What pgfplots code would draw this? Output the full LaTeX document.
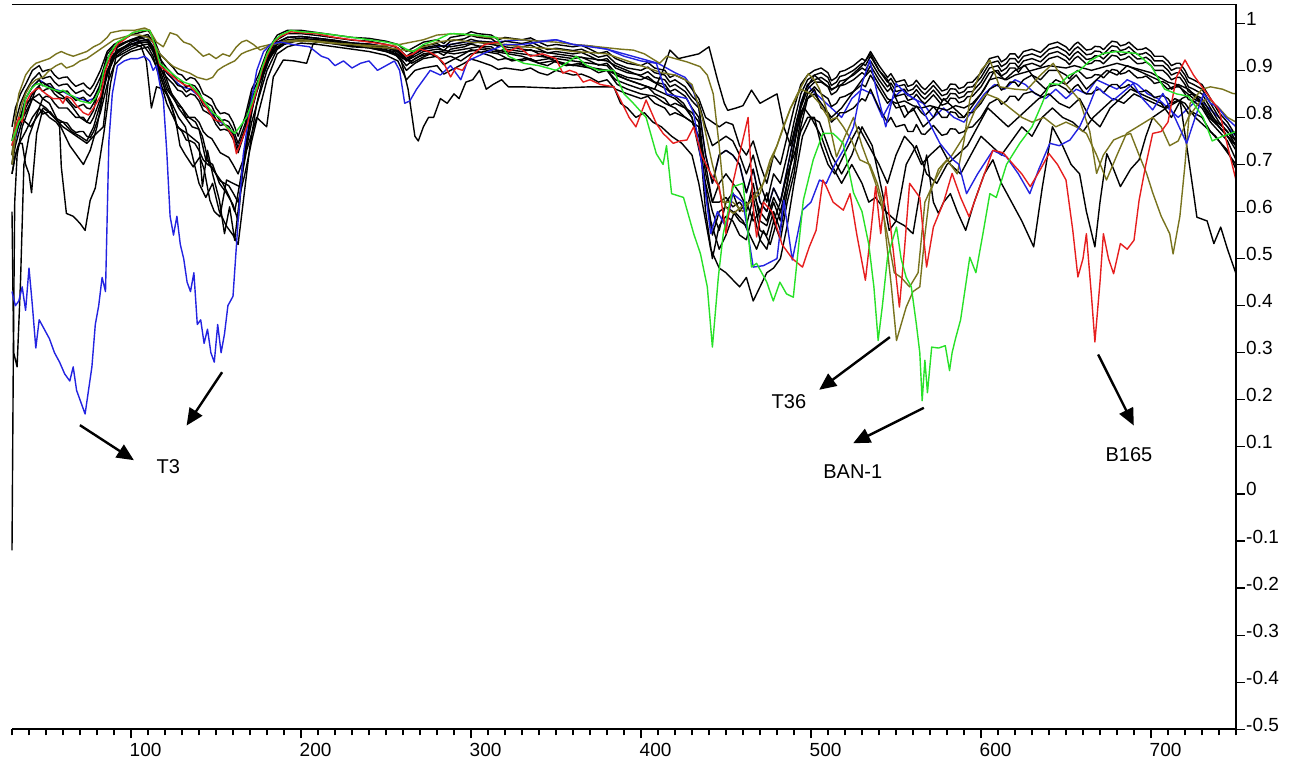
\documentclass[border=0pt]{standalone}
\usepackage{fontspec}
\setmainfont{Liberation Sans}
\usepackage{graphicx}
\usepackage{pgfplots}
\pgfplotsset{compat=1.18}
\usepackage{pgfplotstable}
\usetikzlibrary{arrows.meta}
\definecolor{cblue}{RGB}{35,35,225}
\definecolor{cred}{RGB}{230,30,30}
\definecolor{cgreen}{RGB}{40,225,40}
\definecolor{colive}{RGB}{120,115,30}
\newcommand{\tl}[1]{\scalebox{0.95}{\fontsize{20}{24}\selectfont #1}}

\pgfplotstableread{
x a b c d e f
30 .78 .75 .72 .70 .74 .68
32 .82 .79 .76 .74 .77 .72
35 .85 .83 .80 .78 .79 .75
38 .87 .855 .84 .82 .81 .77
42 .90 .88 .865 .85 .84 .80
46 .91 .895 .88 .865 .85 .82
48 .897 .882 .867 .855 .84 .807
50 .90 .885 .87 .86 .845 .81
52.5 .902 .887 .872 .862 .843 .812
55 .89 .875 .86 .85 .83 .80
57.5 .882 .867 .852 .842 .82 .79
60 .885 .87 .855 .84 .82 .79
62.5 .886 .871 .856 .841 .82 .788
65 .875 .86 .845 .83 .81 .775
67.5 .866 .851 .836 .821 .80 .768
70 .87 .855 .84 .825 .80 .77
72 .873 .858 .843 .828 .80 .77
74 .865 .85 .835 .82 .79 .76
76 .86 .845 .83 .818 .787 .757
78 .87 .855 .84 .83 .80 .77
82 .90 .885 .87 .86 .84 .81
86 .94 .925 .915 .90 .89 .87
90 .955 .945 .935 .925 .925 .91
95 .965 .955 .945 .935 .94 .93
100 .975 .965 .955 .945 .95 .94
105 .98 .972 .962 .952 .958 .945
110 .985 .976 .966 .956 .96 .95
113 .97 .96 .95 .94 .945 .93
117 .935 .925 .915 .905 .90 .88
121 .92 .905 .895 .885 .86 .83
125 .905 .89 .88 .87 .84 .80
127.5 .893 .878 .868 .858 .826 .781
130 .89 .875 .865 .855 .82 .77
132.5 .879 .864 .854 .844 .80 .752
135 .885 .87 .86 .85 .80 .75
137.5 .882 .867 .857 .847 .80 .745
140 .87 .855 .845 .835 .79 .73
142.5 .85 .835 .825 .815 .77 .71
145 .845 .83 .82 .81 .76 .70
147.5 .839 .824 .814 .804 .755 .695
150 .82 .805 .795 .785 .74 .68
152.5 .808 .793 .783 .773 .725 .665
155 .81 .795 .785 .775 .72 .66
157.5 .806 .791 .781 .771 .715 .655
160 .79 .775 .765 .755 .70 .64
163 .76 .745 .735 .725 .68 .62
167 .80 .785 .775 .77 .72 .68
171 .86 .85 .84 .83 .79 .75
175 .89 .88 .87 .865 .84 .81
180 .94 .93 .92 .915 .90 .88
186 .975 .965 .958 .95 .945 .935
192 .985 .978 .97 .962 .96 .95
200 .985 .978 .972 .965 .965 .958
210 .98 .974 .968 .962 .962 .955
220 .975 .969 .963 .957 .956 .95
230 .97 .964 .958 .952 .95 .945
240 .968 .962 .956 .95 .948 .94
250 .962 .955 .95 .944 .94 .932
257 .955 .948 .94 .933 .93 .92
262 .94 .93 .92 .91 .90 .88
267 .95 .942 .935 .925 .915 .90
272 .96 .952 .945 .935 .925 .905
280 .965 .957 .95 .94 .93 .91
284 .957 .949 .942 .932 .912 .892
288 .97 .962 .955 .945 .92 .90
296 .975 .967 .96 .95 .935 .915
300 .982 .974 .966 .956 .944 .924
304 .978 .97 .962 .952 .94 .92
312 .975 .967 .96 .95 .93 .91
316 .965 .957 .95 .94 .922 .902
320 .97 .962 .955 .945 .925 .905
330 .965 .957 .95 .94 .92 .90
335 .969 .961 .954 .944 .925 .905
340 .96 .952 .945 .935 .915 .895
345 .952 .944 .937 .927 .91 .89
350 .955 .947 .94 .93 .92 .90
360 .95 .942 .935 .925 .91 .89
365 .953 .945 .938 .928 .912 .892
370 .945 .937 .93 .92 .905 .885
375 .936 .928 .921 .911 .895 .875
380 .94 .932 .925 .915 .90 .88
385 .925 .915 .905 .895 .88 .86
392 .915 .905 .895 .885 .87 .85
400 .91 .90 .89 .88 .86 .84
404 .917 .907 .897 .887 .865 .845
408 .905 .895 .885 .875 .85 .83
414 .90 .89 .88 .87 .84 .82
417 .885 .875 .865 .855 .825 .805
420 .89 .88 .87 .86 .83 .81
426 .88 .865 .855 .845 .82 .80
430 .86 .845 .835 .82 .81 .79
434 .84 .83 .82 .80 .79 .78
438 .80 .78 .72 .68 .64 .60
442 .79 .74 .66 .62 .55 .50
446 .78 .75 .72 .62 .60 .57
450 .79 .76 .73 .63 .61 .59
454 .785 .75 .72 .61 .60 .58
458 .74 .72 .70 .62 .58 .55
462 .72 .68 .64 .60 .57 .54
466 .75 .72 .69 .66 .63 .60
470 .70 .66 .62 .58 .56 .54
474 .66 .62 .60 .57 .55 .52
478 .72 .68 .65 .62 .60 .58
482 .70 .66 .62 .58 .56 .54
486 .76 .72 .69 .66 .64 .62
490 .82 .79 .76 .74 .70 .68
494 .87 .85 .83 .82 .80 .78
498 .89 .88 .87 .86 .85 .84
502 .90 .89 .88 .875 .865 .86
506 .905 .895 .885 .875 .85 .82
510 .895 .885 .875 .865 .84 .81
512 .878 .868 .858 .848 .823 .79
515 .885 .875 .865 .855 .83 .80
517 .897 .887 .877 .867 .842 .81
520 .90 .89 .88 .87 .845 .81
525 .91 .90 .89 .88 .855 .82
530 .925 .915 .905 .895 .87 .84
532 .92 .91 .90 .89 .865 .835
535 .94 .93 .92 .91 .89 .86
540 .91 .90 .89 .88 .86 .82
545 .885 .875 .865 .855 .83 .79
547 .893 .883 .873 .863 .838 .80
550 .875 .865 .855 .845 .82 .78
555 .88 .87 .86 .85 .825 .785
557 .866 .856 .846 .836 .81 .77
560 .87 .86 .85 .84 .815 .77
562 .879 .869 .859 .849 .824 .785
565 .865 .855 .845 .835 .81 .765
567 .859 .849 .839 .829 .804 .764
570 .87 .86 .85 .84 .815 .775
572 .878 .868 .858 .848 .823 .783
575 .865 .855 .845 .835 .81 .77
577 .856 .846 .836 .826 .80 .762
580 .86 .85 .84 .83 .80 .765
582 .871 .861 .851 .841 .812 .776
585 .87 .86 .85 .84 .81 .775
587 .861 .851 .841 .831 .80 .766
590 .865 .855 .845 .835 .80 .77
592 .874 .864 .854 .844 .81 .778
595 .875 .865 .855 .845 .81 .78
600 .895 .885 .875 .865 .83 .80
605 .925 .915 .905 .895 .86 .83
610 .93 .92 .91 .90 .87 .84
612 .918 .908 .898 .888 .858 .828
615 .925 .915 .905 .895 .865 .835
617 .935 .925 .915 .905 .875 .845
620 .935 .925 .915 .905 .875 .845
622 .926 .916 .906 .896 .866 .836
625 .94 .93 .92 .91 .88 .85
630 .945 .935 .925 .915 .89 .855
635 .938 .928 .918 .908 .88 .845
640 .955 .945 .935 .925 .90 .865
645 .96 .95 .94 .93 .90 .87
650 .95 .94 .93 .92 .89 .86
652 .942 .932 .922 .912 .882 .852
655 .955 .945 .935 .925 .895 .865
657 .96 .95 .94 .93 .90 .87
660 .95 .94 .93 .92 .89 .855
662 .943 .933 .923 .913 .883 .85
665 .945 .935 .925 .915 .885 .85
667 .951 .941 .931 .921 .891 .857
670 .95 .94 .93 .92 .89 .86
672 .944 .934 .924 .914 .884 .852
675 .955 .945 .935 .925 .895 .865
677 .962 .952 .942 .932 .902 .87
680 .96 .95 .94 .93 .90 .87
682 .952 .942 .932 .922 .892 .862
685 .955 .945 .935 .925 .895 .865
687 .96 .95 .94 .93 .90 .87
690 .95 .94 .93 .92 .89 .86
692 .944 .934 .924 .914 .884 .854
695 .945 .935 .925 .915 .885 .855
697 .948 .938 .928 .918 .888 .858
700 .94 .93 .92 .91 .88 .85
702 .93 .92 .91 .90 .872 .842
705 .93 .92 .91 .90 .875 .845
707 .93 .92 .91 .90 .876 .846
710 .92 .91 .90 .89 .87 .84
712 .91 .90 .89 .88 .86 .83
715 .915 .905 .895 .885 .865 .835
717 .915 .905 .895 .885 .865 .835
720 .90 .89 .88 .87 .85 .82
722 .885 .875 .865 .855 .838 .808
725 .88 .87 .86 .85 .835 .81
730 .87 .86 .85 .84 .82 .80
735 .84 .83 .82 .81 .79 .77
740 .81 .80 .79 .78 .77 .75
745 .79 .78 .77 .76 .75 .73
750 .76 .75 .74 .73 .71 .69
}\bundle

\begin{document}
\begin{tikzpicture}
\begin{axis}[
  name=ax, at={(0,0)}, anchor=south west,
  scale only axis, width=1224pt, height=724.6pt,
  xmin=30, xmax=750, ymin=-0.5, ymax=1.0395,
  clip=false,
  axis line style={draw=none},
  xtick={100,200,300,400,500,600,700},
  xticklabels={\tl{100},\tl{200},\tl{300},\tl{400},\tl{500},\tl{600},\tl{700}},
  minor xtick={30,40,...,750},
  ytick={-0.5,-0.4,-0.3,-0.2,-0.1,0,0.1,0.2,0.3,0.4,0.5,0.6,0.7,0.8,0.9,1},
  yticklabels={\tl{-0.5},\tl{-0.4},\tl{-0.3},\tl{-0.2},\tl{-0.1},\tl{0},\tl{0.1},\tl{0.2},\tl{0.3},\tl{0.4},\tl{0.5},\tl{0.6},\tl{0.7},\tl{0.8},\tl{0.9},\tl{1}},
  xtick pos=lower, ytick pos=upper,
  xticklabel pos=lower, yticklabel pos=upper,
  tick align=outside,
  major tick length=9pt, minor tick length=6pt,
  tick style={black, line width=1.2pt},
  xticklabel style={inner sep=0pt, anchor=north west, xshift=-1.5pt, yshift=-4.5pt},
  yticklabel style={inner sep=0pt, anchor=base west, xshift=1pt, yshift=-2pt},
  every axis plot/.append style={line width=1.4pt, line join=round},
]
% hidden blue in bundle
\addplot[cblue] coordinates {(30,.72)(35,.80)(38,.84)(42,.865)(46,.88)(50,.87)(55,.86)(60,.855)(65,.845)(70,.84)(74,.835)(78,.84)(82,.87)(86,.915)(90,.935)(95,.945)(100,.955)(105,.962)(110,.966)(113,.95)(117,.915)(121,.895)(125,.88)(130,.865)(135,.86)(140,.845)(145,.82)(150,.795)(155,.785)(160,.765)(163,.735)(167,.775)(171,.84)(175,.87)(180,.92)(186,.958)(192,.97)(200,.972)(210,.968)(220,.963)(230,.958)(240,.956)(250,.95)(257,.94)(262,.92)(267,.935)(272,.945)(280,.95)(288,.955)(296,.96)(304,.962)(312,.96)(320,.962)(330,.965)(340,.962)(350,.965)(360,.955)(370,.952)(380,.945)(390,.935)(400,.925)(410,.915)(420,.895)(426,.885)(430,.865)(434,.82)(438,.72)(442,.66)(446,.72)(450,.73)(454,.72)(458,.70)(462,.64)(466,.69)(470,.62)(474,.60)(478,.65)(482,.62)(486,.69)(490,.76)(494,.83)(498,.87)(500,.86)(506,.84)(512,.82)(518,.80)(524,.84)(530,.86)(536,.85)(542,.80)(548,.84)(554,.86)(560,.84)(566,.83)(572,.80)(578,.82)(584,.80)(590,.79)(596,.82)(602,.85)(608,.87)(614,.86)(620,.88)(626,.87)(632,.85)(638,.84)(644,.86)(650,.84)(656,.86)(662,.85)(668,.88)(674,.87)(680,.86)(686,.88)(692,.87)(698,.85)(704,.84)(710,.82)(716,.80)(722,.82)(728,.84)(734,.82)(740,.80)(745,.78)(750,.76)};
% black bundle
\addplot[black] table[x=x,y=f] {\bundle};
\addplot[black] table[x=x,y=e] {\bundle};
\addplot[black] table[x=x,y=d] {\bundle};
\addplot[black] table[x=x,y=c] {\bundle};
\addplot[black] table[x=x,y=b] {\bundle};
\addplot[black] table[x=x,y=a] {\bundle};
% K7
\addplot[black] coordinates {(30,.68)(32,.72)(34,.745)(36,.745)(38,.70)(40,.68)(41.5,.64)(44.5,.766)(48,.815)(52,.80)(56,.79)(58,.78)(59,.695)(62,.596)(66,.59)(70,.575)(73,.56)(76,.624)(79,.65)(84,.766)(88,.873)(92,.943)(96,.95)(101,.957)(106,.95)(109,.92)(112,.82)(115,.865)(119,.86)(123,.837)(127,.78)(133,.766)(140,.745)(142,.653)(145,.73)(148,.68)(152,.624)(155,.553)(158,.61)(161,.539)(166,.695)(172,.837)(178,.908)(184,.94)(190,.955)(200,.965)(210,.962)(220,.958)(230,.952)(240,.948)(250,.94)(255,.935)(259,.92)(263,.86)(267,.76)(269,.75)(272,.78)(275,.80)(278,.80)(282,.84)(286,.83)(290,.85)(293,.84)(297,.875)(301,.88)(305,.90)(309,.86)(313,.87)(318,.88)(322,.865)(330,.865)(350,.862)(370,.865)(384,.865)(388,.83)(392,.82)(397,.80)(402,.81)(407,.79)(412,.78)(418,.76)(424,.745)(430,.72)(434,.66)(438,.58)(441,.52)(446,.48)(450,.47)(454,.455)(458,.44)(462,.46)(466,.41)(470,.44)(474,.47)(478,.48)(482,.50)(486,.57)(490,.66)(495,.76)(500,.80)(505,.79)(512,.72)(518,.68)(524,.72)(530,.78)(536,.74)(542,.64)(546,.56)(550,.58)(556,.70)(562,.74)(568,.68)(574,.66)(580,.70)(586,.72)(592,.74)(598,.78)(604,.82)(610,.80)(616,.78)(622,.80)(628,.82)(634,.84)(640,.85)(646,.83)(652,.82)(658,.84)(664,.80)(670,.78)(676,.82)(682,.84)(688,.86)(694,.85)(700,.84)(706,.83)(712,.80)(718,.84)(724,.85)(730,.83)(736,.80)(742,.78)(750,.75)};
% K8
\addplot[black] coordinates {(30,.72)(32,.78)(35,.80)(38,.79)(41,.78)(44.5,.80)(48.4,.82)(52,.81)(56,.795)(60,.78)(64,.77)(68,.76)(74,.745)(78,.76)(83.7,.78)(87.6,.908)(92,.95)(97,.96)(102,.965)(107,.968)(111,.96)(114,.93)(118,.88)(122,.84)(126,.80)(128.8,.74)(132,.72)(136.6,.695)(140.5,.716)(143,.69)(146.4,.624)(149,.60)(152.3,.589)(156.2,.667)(160,.66)(164,.653)(168,.73)(173.9,.80)(179.8,.78)(183.7,.886)(189.6,.922)(196,.92)(203.3,.915)(207.2,.957)(215,.965)(225,.96)(235,.955)(245,.95)(255,.945)(260,.93)(265,.915)(270,.925)(276,.935)(282,.925)(288,.93)(294,.92)(300,.935)(308,.94)(316,.935)(324,.92)(332,.925)(340,.915)(348,.92)(356,.91)(364,.915)(372,.905)(380,.90)(386,.89)(392,.88)(400,.87)(408,.86)(413,.90)(417,.943)(422,.925)(428,.93)(434,.935)(440,.95)(445,.88)(449,.83)(451,.815)(456,.82)(460,.825)(465,.858)(470,.83)(475,.84)(480,.85)(484,.78)(488,.74)(492,.80)(497,.86)(502,.89)(505,.88)(512,.86)(518,.87)(524,.89)(530,.91)(535,.935)(540,.90)(545,.88)(550,.84)(555,.80)(560,.82)(566,.78)(572,.80)(578,.84)(584,.82)(590,.80)(596,.83)(602,.86)(608,.90)(614,.88)(620,.90)(626,.91)(632,.88)(638,.86)(644,.88)(650,.87)(656,.89)(662,.86)(668,.88)(674,.90)(680,.89)(686,.91)(692,.90)(698,.89)(704,.88)(710,.86)(716,.87)(722,.86)(728,.84)(734,.80)(740,.78)(745,.76)(750,.74)};
% K9
\addplot[black] coordinates {(30,-.12)(30.8,.30)(31.6,.62)(33,.72)(36,.78)(40,.82)(44,.86)(48,.875)(52,.865)(56,.855)(60,.845)(65,.825)(70,.80)(74,.79)(78,.815)(82,.875)(86,.935)(90,.95)(95,.958)(100,.965)(105,.97)(110,.972)(114,.955)(117,.93)(120,.89)(124,.85)(128,.82)(132,.80)(136,.78)(140,.775)(144,.71)(148,.70)(152,.66)(156,.64)(160,.615)(163,.58)(166,.70)(170,.80)(175,.87)(180,.925)(186,.96)(192,.97)(200,.972)(210,.968)(220,.964)(230,.958)(240,.955)(250,.95)(257,.943)(262,.925)(267,.937)(272,.948)(280,.953)(288,.95)(296,.955)(304,.96)(312,.955)(320,.95)(330,.945)(340,.94)(350,.935)(360,.93)(370,.925)(380,.92)(385,.91)(395,.895)(405,.88)(415,.86)(425,.83)(430,.80)(436,.70)(441,.58)(446,.52)(450,.55)(455,.60)(460,.58)(464,.55)(468,.52)(472,.56)(476,.53)(480,.58)(484,.62)(488,.70)(492,.78)(496,.82)(500,.80)(506,.76)(512,.70)(518,.66)(524,.70)(530,.66)(534,.62)(538,.63)(544,.60)(550,.58)(555,.57)(560,.553)(564,.64)(568,.72)(572,.62)(575,.596)(578,.62)(582,.638)(586,.60)(591,.56)(596,.62)(602,.68)(607,.71)(612,.66)(618,.62)(624,.58)(631,.525)(636,.65)(642,.78)(648,.74)(653,.70)(658,.68)(662,.60)(667,.525)(670,.62)(674,.723)(678,.69)(682,.653)(688,.69)(693,.71)(697,.76)(701,.80)(709,.82)(717,.837)(721,.74)(725,.64)(727,.588)(733,.58)(737,.532)(741,.567)(745,.52)(750,.468)};
% K10
\addplot[black] coordinates {(30,.70)(32,.76)(35,.80)(38,.83)(42,.84)(46,.83)(50,.82)(55,.80)(60,.79)(65,.77)(70,.76)(74,.75)(78,.78)(82,.83)(86,.90)(90,.93)(95,.945)(100,.955)(105,.96)(110,.96)(114,.94)(118,.90)(122,.86)(126,.84)(130,.82)(134,.80)(138,.79)(142,.76)(146,.70)(150,.68)(154,.66)(158,.63)(161,.60)(164,.66)(168,.75)(172,.83)(176,.88)(180,.92)(186,.955)(192,.965)(200,.968)(210,.965)(220,.96)(230,.955)(240,.952)(250,.948)(257,.94)(262,.92)(267,.93)(272,.94)(280,.945)(288,.94)(296,.945)(304,.95)(312,.945)(320,.94)(330,.935)(340,.93)(350,.925)(360,.92)(370,.915)(380,.91)(385,.89)(392,.88)(400,.87)(408,.86)(414,.85)(420,.84)(426,.82)(430,.80)(434,.74)(438,.66)(442,.60)(446,.56)(450,.62)(454,.64)(458,.60)(462,.62)(466,.58)(470,.60)(474,.64)(478,.58)(482,.62)(486,.68)(490,.72)(494,.77)(498,.80)(502,.80)(506,.74)(510,.70)(514,.68)(518,.71)(522,.74)(528,.78)(534,.74)(540,.70)(545,.66)(550,.72)(555,.76)(560,.74)(565,.70)(570,.72)(576,.74)(582,.70)(588,.68)(594,.72)(600,.76)(606,.74)(612,.72)(618,.75)(624,.78)(630,.76)(636,.80)(642,.82)(648,.80)(654,.79)(660,.77)(666,.80)(672,.82)(678,.84)(684,.83)(690,.85)(696,.84)(702,.83)(708,.82)(714,.84)(720,.83)(726,.80)(732,.78)(738,.76)(744,.73)(750,.70)};
% K11
\addplot[black] coordinates {(30,.60)(31,.30)(33,.27)(35,.45)(37,.70)(40,.76)(44,.80)(48,.84)(52,.83)(56,.80)(60,.77)(64,.74)(68,.72)(72,.70)(76,.73)(80,.78)(84,.86)(88,.92)(92,.94)(96,.95)(100,.96)(104,.965)(108,.95)(112,.93)(116,.90)(120,.86)(124,.83)(128,.80)(132,.78)(136,.72)(140,.66)(144,.63)(148,.66)(152,.60)(156,.57)(160,.55)(163,.53)(166,.62)(170,.74)(174,.83)(178,.89)(182,.93)(188,.955)(195,.962)(205,.963)(215,.958)(225,.955)(235,.95)(245,.946)(255,.94)(260,.925)(265,.92)(270,.93)(276,.935)(282,.94)(290,.935)(298,.94)(306,.945)(314,.94)(322,.935)(330,.93)(338,.92)(346,.925)(354,.915)(362,.91)(370,.905)(380,.90)(386,.87)(392,.86)(400,.85)(408,.845)(414,.83)(420,.82)(426,.80)(430,.79)(434,.76)(438,.70)(442,.62)(446,.66)(450,.68)(454,.66)(458,.64)(462,.61)(466,.64)(470,.60)(474,.58)(478,.63)(482,.60)(486,.66)(490,.74)(494,.81)(498,.84)(502,.85)(506,.83)(512,.80)(518,.82)(524,.85)(530,.88)(535,.90)(540,.87)(545,.84)(550,.83)(555,.835)(560,.825)(565,.82)(570,.825)(575,.82)(580,.815)(585,.825)(590,.82)(595,.83)(600,.85)(605,.88)(610,.885)(615,.88)(620,.89)(625,.895)(630,.90)(640,.91)(650,.905)(655,.91)(660,.905)(665,.90)(670,.905)(675,.91)(680,.915)(685,.91)(690,.905)(695,.90)(700,.895)(705,.885)(710,.875)(715,.87)(720,.855)(725,.84)(730,.83)(735,.80)(740,.78)(745,.76)(750,.74)};
% olive 2
\addplot[colive] coordinates {(30,.70)(32,.76)(34,.80)(36,.83)(38,.85)(41,.87)(44,.88)(48.4,.886)(52,.90)(56,.91)(59,.915)(62,.905)(66,.91)(70,.92)(74,.925)(78,.935)(82,.945)(86,.955)(90,.965)(95,.97)(100,.975)(105,.975)(110,.97)(113,.96)(117,.935)(121,.92)(125,.908)(130,.90)(134.6,.894)(139,.885)(144.5,.88)(148,.885)(151,.90)(154.3,.908)(158,.915)(161,.92)(165,.935)(168,.94)(172,.945)(176,.95)(182,.955)(190,.96)(200,.962)(210,.96)(220,.957)(230,.955)(240,.95)(250,.948)(258,.945)(265,.94)(272,.95)(280,.96)(290,.965)(300,.96)(310,.958)(320,.955)(330,.95)(340,.948)(350,.945)(360,.94)(370,.938)(380,.935)(388,.925)(396,.915)(404,.905)(412,.895)(420,.89)(426,.88)(430,.87)(436,.80)(442,.70)(448,.62)(454,.62)(460,.60)(466,.63)(472,.66)(480,.74)(488,.82)(494,.86)(500,.85)(505,.83)(510,.80)(515,.716)(520,.76)(525,.80)(530,.74)(534.6,.695)(538,.66)(541,.62)(545,.55)(549,.47)(553,.46)(558,.44)(563,.47)(567,.62)(572,.66)(578,.70)(583,.72)(590,.76)(597,.82)(603,.85)(610,.84)(617,.82)(624,.80)(630,.79)(637,.80)(644,.78)(650,.79)(656,.78)(662,.766)(668,.72)(673.8,.667)(680,.72)(685.6,.766)(692,.78)(701,.80)(706,.78)(711,.74)(716,.75)(722,.80)(728,.83)(734,.84)(740,.82)(745,.80)(750,.79)};
% olive 1
\addplot[colive] coordinates {(30,.72)(32,.80)(34,.85)(36,.87)(38,.89)(41,.905)(44,.915)(48,.92)(52,.925)(56,.935)(59,.94)(62,.935)(66,.93)(70,.935)(74,.94)(78,.95)(82,.957)(86,.97)(88,.98)(95,.985)(102,.985)(108,.99)(111,.985)(115,.96)(119,.95)(123,.98)(127,.975)(131,.96)(135,.955)(138.6,.943)(142.5,.93)(146,.935)(150,.925)(154,.935)(158,.93)(162,.95)(165,.96)(168,.964)(172,.955)(176,.943)(180,.95)(185.6,.957)(190,.962)(200,.965)(210,.962)(220,.958)(230,.955)(240,.953)(250,.952)(258,.955)(265,.96)(272,.965)(280,.975)(290,.978)(300,.975)(310,.97)(320,.968)(330,.965)(340,.962)(350,.96)(360,.955)(370,.952)(380,.948)(388,.945)(395.5,.943)(402,.935)(411,.915)(415,.93)(420,.925)(427,.918)(434.7,.908)(439,.89)(442.5,.85)(446,.74)(449.4,.61)(454.3,.596)(459,.61)(464,.62)(470,.638)(476,.71)(480,.74)(483.7,.78)(488,.82)(492,.85)(498.4,.893)(502,.88)(505,.86)(508,.83)(511,.794)(515,.80)(519,.78)(524,.75)(528.7,.71)(534.6,.70)(539,.66)(542,.62)(544,.55)(547.3,.44)(550.3,.326)(553,.36)(556,.397)(560,.43)(564,.44)(567,.55)(569.9,.638)(575,.69)(580,.71)(586,.68)(590,.75)(593.4,.837)(600,.90)(605.2,.922)(611,.865)(620,.86)(626.8,.858)(635,.89)(642.5,.915)(650,.87)(658,.837)(664,.77)(668,.681)(672,.72)(678,.752)(683,.76)(688,.766)(693,.72)(697.4,.681)(701,.64)(706,.59)(711,.553)(713,.51)(717,.59)(720,.70)(723,.83)(730,.86)(735,.865)(742,.86)(748,.851)(750,.85)};
% blue T3
\addplot[cblue] coordinates {(30,.43)(32,.40)(34,.41)(36,.44)(38,.39)(40,.48)(42,.40)(44,.31)(46,.37)(49,.35)(52,.33)(55,.30)(58,.28)(61,.255)(64,.24)(66,.27)(68,.22)(70,.20)(73,.17)(75,.22)(77,.27)(79,.36)(81,.40)(83,.46)(85,.43)(87,.75)(89,.85)(92,.91)(96,.92)(100,.925)(104,.925)(108,.93)(111,.92)(113,.90)(115,.91)(117,.87)(119,.84)(121,.73)(123,.59)(125,.55)(127,.59)(129,.53)(131,.50)(133,.45)(135,.43)(137,.47)(139,.36)(141,.37)(143,.32)(145,.35)(147,.30)(149,.28)(151,.36)(153,.30)(155,.34)(157,.40)(160,.42)(163,.58)(166,.72)(170,.82)(174,.90)(178,.94)(182,.955)(188,.96)(195,.955)(205,.95)(212,.93)(216,.925)(220,.91)(225,.92)(230,.905)(235,.915)(240,.92)(245,.90)(250,.91)(255,.92)(258,.90)(261,.83)(264,.835)(268,.86)(272,.88)(276,.90)(282,.89)(288,.91)(294,.88)(298,.92)(304,.93)(310,.94)(320,.955)(330,.955)(340,.96)(350,.965)(360,.955)(370,.95)(380,.945)(390,.93)(400,.92)(409,.915)(415,.85)(421,.845)(427,.84)(431,.81)(436,.695)(441,.553)(445,.60)(450,.567)(454,.638)(460,.62)(466,.482)(472,.485)(480,.50)(484,.624)(489,.497)(495,.603)(500,.62)(505,.667)(509,.66)(514,.70)(519,.73)(525,.78)(530,.872)(534.6,.922)(539,.85)(544,.78)(550,.872)(556,.85)(562,.837)(568,.80)(575.8,.745)(583.6,.71)(587,.70)(591.5,.638)(598,.68)(607,.73)(615,.716)(622,.68)(628.7,.638)(634,.69)(640.5,.745)(646,.74)(652.3,.752)(658,.78)(663,.82)(668,.865)(673,.85)(678,.837)(684,.855)(689.5,.872)(695,.84)(701,.816)(707,.851)(714,.80)(721,.745)(726,.80)(731,.851)(735,.83)(739,.823)(744,.80)(750,.78)};
% red
\addplot[cred] coordinates {(30,.74)(32,.78)(34,.80)(36,.79)(38,.83)(41,.85)(44,.86)(46,.862)(50,.85)(54,.84)(58,.84)(60,.83)(62,.845)(65,.84)(68,.825)(72,.81)(75,.805)(78,.82)(82,.845)(85,.90)(88,.93)(92,.955)(96,.965)(101,.98)(106,.985)(111,.985)(114,.95)(117,.91)(122,.895)(127,.88)(131,.87)(135,.865)(140,.845)(144,.823)(148,.80)(150,.794)(154,.79)(158,.77)(160,.759)(162,.723)(165,.75)(168,.78)(171,.82)(174,.858)(177,.90)(180,.93)(184,.96)(188,.972)(194,.982)(200,.98)(209,.978)(220,.97)(230,.965)(240,.96)(250,.955)(256,.95)(262,.93)(266,.935)(270,.945)(275,.94)(280,.93)(284,.915)(288,.886)(291,.905)(295,.90)(300,.93)(308,.955)(316,.96)(322,.94)(328,.95)(335,.93)(342,.935)(350,.925)(354,.894)(358,.90)(362,.895)(366,.875)(370,.88)(376,.87)(384,.865)(388,.837)(393,.80)(397,.78)(403,.837)(409,.787)(413,.766)(419,.745)(423,.75)(427,.752)(431,.78)(436,.716)(442,.674)(446,.653)(450,.553)(454,.66)(458,.723)(463,.80)(466,.61)(468,.546)(472,.62)(477,.60)(483,.53)(489,.50)(495,.482)(499,.525)(503,.56)(507,.667)(509,.653)(513,.62)(519,.603)(523,.638)(527,.55)(532,.454)(535,.55)(538,.653)(541,.553)(544,.653)(548,.53)(552,.397)(555,.52)(558,.66)(564,.63)(568,.482)(572,.567)(578,.62)(583,.681)(588,.63)(593,.589)(600,.66)(607,.73)(613,.725)(619,.70)(624,.68)(629,.653)(635,.69)(640,.723)(645,.70)(650,.667)(654,.56)(657,.461)(660,.50)(662,.553)(665,.42)(667,.323)(670,.45)(672,.553)(675,.50)(678,.468)(682,.532)(686,.52)(690,.539)(693,.624)(697,.70)(701,.766)(706,.77)(710,.79)(715,.886)(720,.922)(725,.89)(730,.865)(735,.84)(740,.816)(745,.74)(750,.667)};
% green
\addplot[cgreen] coordinates {(30,.75)(32,.77)(34,.79)(36,.80)(38,.84)(41,.86)(44,.87)(46.4,.872)(50,.865)(54,.86)(58,.855)(60,.858)(63,.85)(66,.845)(70,.835)(75.8,.83)(79,.84)(81.7,.86)(84,.90)(87.6,.936)(92,.96)(96,.968)(101,.98)(106,.985)(111,.985)(114,.955)(117,.915)(122,.90)(127,.885)(131,.875)(135,.87)(140,.85)(144,.83)(148,.81)(152,.80)(156.2,.78)(158,.775)(161,.766)(164,.78)(166,.79)(168,.80)(171,.83)(174,.865)(177,.905)(180,.935)(184,.962)(188,.975)(194,.985)(200,.982)(209,.98)(220,.975)(230,.97)(240,.965)(250,.96)(257,.955)(262,.945)(266,.94)(272,.955)(280,.965)(287.6,.978)(295,.977)(303,.975)(315,.97)(322,.93)(331,.915)(340,.91)(350,.90)(356,.915)(362,.93)(368,.91)(375,.90)(384,.90)(390,.85)(395.5,.83)(403,.80)(409,.723)(413,.70)(415,.74)(418,.638)(425,.63)(431,.553)(435,.51)(439,.44)(442,.312)(445.5,.461)(448.4,.553)(454.3,.653)(460,.66)(465,.482)(468,.49)(474,.45)(477.8,.41)(481.7,.45)(485.6,.425)(489.6,.418)(495.5,.624)(501.3,.71)(507,.766)(513,.766)(519,.745)(525,.64)(530,.60)(534,.53)(537,.44)(539.5,.326)(542,.40)(545,.503)(548,.54)(550.3,.567)(553,.50)(556,.46)(559,.44)(562,.36)(564,.30)(565.4,.198)(567,.284)(568.5,.215)(571,.312)(575,.31)(579,.315)(581.5,.262)(583,.30)(585,.33)(588,.37)(593.4,.503)(597,.47)(601,.55)(605.2,.638)(609,.63)(615,.70)(622.8,.745)(630,.78)(636,.83)(640.5,.872)(646,.87)(652,.89)(658,.90)(664,.92)(671.9,.936)(680,.94)(691.5,.936)(700,.91)(708,.86)(715,.85)(722,.845)(730.7,.80)(736,.75)(742,.76)(750,.77)};
% frame
\draw[line width=1.6pt] (rel axis cs:0,1) -- (rel axis cs:1,1) -- (rel axis cs:1,0) -- (rel axis cs:0,0);
% annotations
\begin{scope}[line width=2.4pt, -{Triangle[length=17pt,width=15pt]}]
\draw (axis cs:69.94,0.1462) -- (axis cs:101.7,0.0717);
\draw (axis cs:153.6,0.2587) -- (axis cs:132.7,0.1453);
\draw (axis cs:546.4,0.3332) -- (axis cs:504.8,0.2213);
\draw (axis cs:566.4,0.183) -- (axis cs:524.8,0.1077);
\draw (axis cs:668.9,0.2964) -- (axis cs:689.9,0.1453);
\end{scope}
\begin{scope}[every node/.style={font=\fontsize{20}{24}\selectfont, inner sep=0pt}]
\node at (axis cs:121.9,0.0577) {T3};
\node at (axis cs:487.0,0.1964) {T36};
\node at (axis cs:524.6,0.0474) {BAN-1};
\node at (axis cs:687.0,0.0836) {B165};
\end{scope}
\end{axis}
\pgfresetboundingbox
\path[use as bounding box] (-12pt,-30.7pt) rectangle (1279pt,729.3pt);
\end{tikzpicture}
\end{document}
